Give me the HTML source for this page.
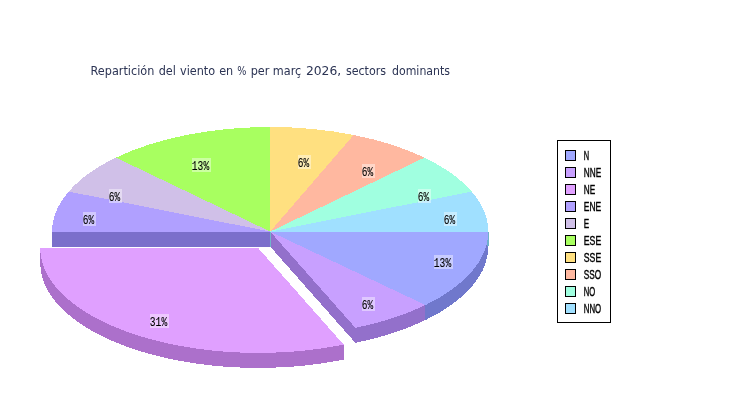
<!DOCTYPE html>
<html><head><meta charset="utf-8"><title>Repartición del viento</title>
<style>
html,body{margin:0;padding:0;background:#fff;}
svg{display:block}
.bm{font-family:"Liberation Sans","DejaVu Sans",sans-serif;font-size:12.2px;fill:#000;stroke:#000;stroke-width:0.4px;}
.pm{font-family:"Liberation Mono","DejaVu Sans Mono",monospace;font-size:13px;fill:#000;stroke:#000;stroke-width:0.12px;}
.title{font-family:"DejaVu Sans Condensed","DejaVu Sans","Liberation Sans",sans-serif;font-size:12.5px;fill:#2c3454;}
</style></head><body>
<svg width="750" height="400" viewBox="0 0 750 400">
<rect width="750" height="400" fill="#fff"/>
<text class="title" y="75"><tspan x="90.6">Repartición</tspan> <tspan x="158.7">del</tspan> <tspan x="180.0">viento</tspan> <tspan x="219.2">en</tspan> <tspan x="237.3" textLength="9.2" lengthAdjust="spacingAndGlyphs">%</tspan> <tspan x="250.7">per</tspan> <tspan x="272.8">març</tspan> <tspan x="305.9" textLength="35.3" lengthAdjust="spacingAndGlyphs">2026,</tspan> <tspan x="345.9" textLength="40.2" lengthAdjust="spacingAndGlyphs">sectors</tspan> <tspan x="392.0" textLength="58.0" lengthAdjust="spacingAndGlyphs">dominants</tspan></text>
<g shape-rendering="crispEdges">
<path d="M488.30,231.60 A218.1,104.6 0 0 1 425.49,305.05 L425.49,320.05 A218.1,104.6 0 0 0 488.30,246.60 Z" fill="#7078cc"/>
<path d="M425.49,305.05 A218.1,104.6 0 0 1 355.42,327.88 L355.42,342.88 A218.1,104.6 0 0 0 425.49,320.05 Z" fill="#9370cb"/>
<rect x="487" y="232" width="2" height="14" fill="#70b0cc"/>
<path d="M270.20,231.60 L52.10,231.60 L52.10,246.60 L270.20,246.60 Z" fill="#7b6fcb"/>
<path d="M270.20,231.60 L355.42,327.88 L355.42,342.88 L270.20,246.60 Z" fill="#9370cb"/>
<rect x="270" y="232" width="1" height="15" fill="#70b4cc"/>
<path d="M270.20,231.60 L488.30,231.60 A218.1,104.6 0 0 1 425.49,305.05 Z" fill="#a0a8ff"/>
<path d="M270.20,231.60 L425.49,305.05 A218.1,104.6 0 0 1 355.42,327.88 Z" fill="#c8a0ff"/>
<path d="M270.20,231.60 L52.10,231.60 A218.1,104.6 0 0 1 68.70,191.57 Z" fill="#b0a0ff"/>
<path d="M270.20,231.60 L68.70,191.57 A218.1,104.6 0 0 1 115.98,157.64 Z" fill="#d0c0e8"/>
<path d="M270.20,231.60 L115.98,157.64 A218.1,104.6 0 0 1 270.20,127.00 Z" fill="#a8ff60"/>
<path d="M270.20,231.60 L270.20,127.00 A218.1,104.6 0 0 1 353.66,134.96 Z" fill="#ffe080"/>
<path d="M270.20,231.60 L353.66,134.96 A218.1,104.6 0 0 1 424.42,157.64 Z" fill="#ffb8a0"/>
<path d="M270.20,231.60 L424.42,157.64 A218.1,104.6 0 0 1 471.70,191.57 Z" fill="#a0ffe0"/>
<path d="M270.20,231.60 L471.70,191.57 A218.1,104.6 0 0 1 488.30,231.60 Z" fill="#a0e0ff"/>
<rect x="40" y="248" width="2" height="14" fill="#ac70cb"/>
<path d="M343.62,344.58 A218.1,104.6 0 0 1 40.30,248.30 L40.30,263.30 A218.1,104.6 0 0 0 343.62,359.58 Z" fill="#ac70cb"/>
<path d="M258.40,248.30 L343.62,344.58 A218.1,104.6 0 0 1 40.30,248.30 Z" fill="#e0a0ff"/>
</g>
<g>
<rect x="434" y="255" width="19" height="14" fill="#fff" fill-opacity="0.42"/>
<text class="pm" x="433.8" y="266.6" textLength="17.4" lengthAdjust="spacingAndGlyphs">13%</text>
<rect x="362" y="297" width="13" height="14" fill="#fff" fill-opacity="0.42"/>
<text class="pm" x="361.8" y="308.6" textLength="11.4" lengthAdjust="spacingAndGlyphs">6%</text>
<rect x="150" y="314" width="19" height="14" fill="#fff" fill-opacity="0.42"/>
<text class="pm" x="149.8" y="325.6" textLength="17.4" lengthAdjust="spacingAndGlyphs">31%</text>
<rect x="83" y="212" width="13" height="14" fill="#fff" fill-opacity="0.42"/>
<text class="pm" x="82.8" y="223.6" textLength="11.4" lengthAdjust="spacingAndGlyphs">6%</text>
<rect x="109" y="189" width="13" height="14" fill="#fff" fill-opacity="0.42"/>
<text class="pm" x="108.8" y="200.6" textLength="11.4" lengthAdjust="spacingAndGlyphs">6%</text>
<rect x="192" y="158" width="19" height="14" fill="#fff" fill-opacity="0.42"/>
<text class="pm" x="191.8" y="169.6" textLength="17.4" lengthAdjust="spacingAndGlyphs">13%</text>
<rect x="298" y="155" width="13" height="14" fill="#fff" fill-opacity="0.42"/>
<text class="pm" x="297.8" y="166.6" textLength="11.4" lengthAdjust="spacingAndGlyphs">6%</text>
<rect x="362" y="164" width="13" height="14" fill="#fff" fill-opacity="0.42"/>
<text class="pm" x="361.8" y="175.6" textLength="11.4" lengthAdjust="spacingAndGlyphs">6%</text>
<rect x="418" y="189" width="13" height="14" fill="#fff" fill-opacity="0.42"/>
<text class="pm" x="417.8" y="200.6" textLength="11.4" lengthAdjust="spacingAndGlyphs">6%</text>
<rect x="444" y="212" width="13" height="14" fill="#fff" fill-opacity="0.42"/>
<text class="pm" x="443.8" y="223.6" textLength="11.4" lengthAdjust="spacingAndGlyphs">6%</text>
</g>
<g>
<rect x="557.5" y="140.5" width="53" height="182" fill="#fff" stroke="#000"/>
<rect x="565.5" y="150.5" width="10" height="10" fill="#a0a8ff" stroke="#000"/>
<text class="bm" x="583.8" y="159.6" textLength="5.4" lengthAdjust="spacingAndGlyphs">N</text>
<rect x="565.5" y="167.5" width="10" height="10" fill="#c8a0ff" stroke="#000"/>
<text class="bm" x="583.8" y="176.6" textLength="17.4" lengthAdjust="spacingAndGlyphs">NNE</text>
<rect x="565.5" y="184.5" width="10" height="10" fill="#e0a0ff" stroke="#000"/>
<text class="bm" x="583.8" y="193.6" textLength="11.4" lengthAdjust="spacingAndGlyphs">NE</text>
<rect x="565.5" y="201.5" width="10" height="10" fill="#b0a0ff" stroke="#000"/>
<text class="bm" x="583.8" y="210.6" textLength="17.4" lengthAdjust="spacingAndGlyphs">ENE</text>
<rect x="565.5" y="218.5" width="10" height="10" fill="#d0c0e8" stroke="#000"/>
<text class="bm" x="583.8" y="227.6" textLength="5.4" lengthAdjust="spacingAndGlyphs">E</text>
<rect x="565.5" y="235.5" width="10" height="10" fill="#a8ff60" stroke="#000"/>
<text class="bm" x="583.8" y="244.6" textLength="17.4" lengthAdjust="spacingAndGlyphs">ESE</text>
<rect x="565.5" y="252.5" width="10" height="10" fill="#ffe080" stroke="#000"/>
<text class="bm" x="583.8" y="261.6" textLength="17.4" lengthAdjust="spacingAndGlyphs">SSE</text>
<rect x="565.5" y="269.5" width="10" height="10" fill="#ffb8a0" stroke="#000"/>
<text class="bm" x="583.8" y="278.6" textLength="17.4" lengthAdjust="spacingAndGlyphs">SSO</text>
<rect x="565.5" y="286.5" width="10" height="10" fill="#a0ffe0" stroke="#000"/>
<text class="bm" x="583.8" y="295.6" textLength="11.4" lengthAdjust="spacingAndGlyphs">NO</text>
<rect x="565.5" y="303.5" width="10" height="10" fill="#a0e0ff" stroke="#000"/>
<text class="bm" x="583.8" y="312.6" textLength="17.4" lengthAdjust="spacingAndGlyphs">NNO</text>
</g>
</svg>
</body></html>
